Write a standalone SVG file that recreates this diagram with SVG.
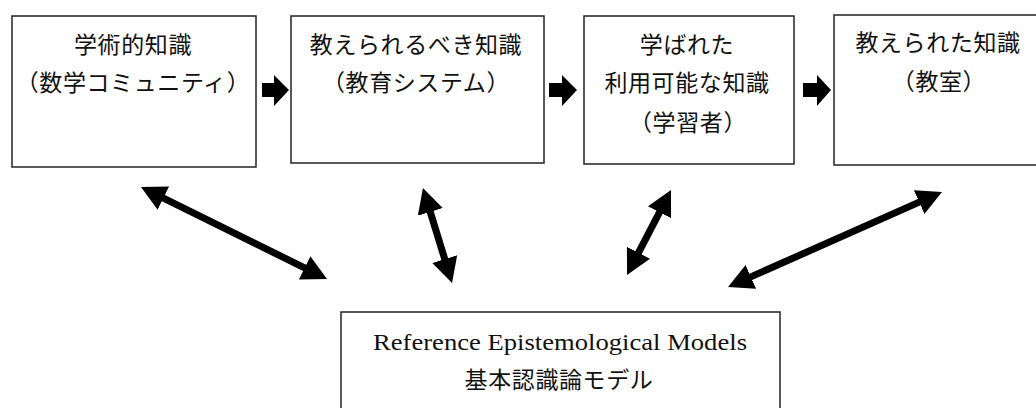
<svg xmlns="http://www.w3.org/2000/svg" width="1036" height="408" viewBox="0 0 1036 408">
<style>
.box{fill:#fff;stroke:#222;stroke-width:1.5}
.jp{font-family:"Noto Sans CJK JP","Noto Sans CJK SC",sans-serif;font-size:23px;letter-spacing:0.6px;fill:#111;text-anchor:middle}
.en{font-family:"Liberation Serif","DejaVu Serif",serif;font-size:23px;fill:#111}
.blk{fill:#000}
.dbl{stroke:#000;stroke-width:7;fill:none;marker-start:url(#ah);marker-end:url(#ah)}
</style>
<defs>
<marker id="ah" markerUnits="userSpaceOnUse" markerWidth="26" markerHeight="26" refX="5" refY="13" orient="auto-start-reverse" viewBox="0 0 26 26">
<path d="M0,0 L25,13 L0,26 z" fill="#000"/>
</marker>
</defs>
<rect width="1036" height="408" fill="#fff"/>
<g id="node1">
<rect class="box" x="12" y="16" width="244" height="151"/>
<text class="jp" x="133" y="53">学術的知識</text>
<text class="jp" x="133" y="91">（数学コミュニティ）</text>
</g>
<g id="node2">
<rect class="box" x="291" y="16" width="253" height="147"/>
<text class="jp" x="416" y="53">教えられるべき知識</text>
<text class="jp" x="416" y="91">（教育システム）</text>
</g>
<g id="node3">
<rect class="box" x="584" y="16" width="210" height="148"/>
<text class="jp" x="687" y="53">学ばれた</text>
<text class="jp" x="687" y="91">利用可能な知識</text>
<text class="jp" x="688" y="131">（学習者）</text>
</g>
<g id="node4">
<rect class="box" x="834" y="15" width="220" height="150"/>
<text class="jp" x="938" y="51">教えられた知識</text>
<text class="jp" x="939" y="90">（教室）</text>
</g>
<g id="node5">
<rect class="box" x="341" y="312" width="439" height="110"/>
<text class="en" x="373" y="350" textLength="374" lengthAdjust="spacingAndGlyphs">Reference Epistemological Models</text>
<text class="jp" x="559" y="388">基本認識論モデル</text>
</g>
<g id="connectors">
<polygon class="blk" points="262,83 274,83 274,75 289,90 274,106 274,97 262,97"/>
<polygon class="blk" points="549,83 562,83 562,75 577,90 562,106 562,97 549,97"/>
<polygon class="blk" points="803,83 817,83 817,75 831,90 817,106 817,97 803,97"/>
<line class="dbl" x1="158.9" y1="195.9" x2="309.1" y2="270.1"/>
<line class="dbl" x1="428.8" y1="207.1" x2="446.2" y2="263.9"/>
<line class="dbl" x1="661.8" y1="207.8" x2="636.2" y2="257.2"/>
<line class="dbl" x1="923.7" y1="200.1" x2="746.3" y2="278.9"/>
</g>
</svg>
